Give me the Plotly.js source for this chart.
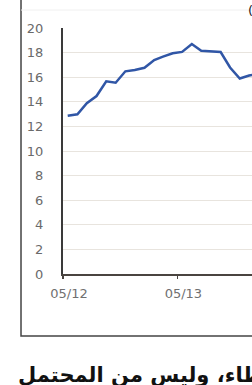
<!DOCTYPE html>
<html><head><meta charset="utf-8">
<script src="https://cdn.plot.ly/plotly-3.0.1.min.js"></script>
<style>html,body{margin:0;padding:0;background:#fff;overflow:hidden}#chart{width:252px;height:385px}</style>
</head><body><div id="chart"></div>
<script>
const months = ['2012-05-16','2012-06-16','2012-07-16','2012-08-16','2012-09-16','2012-10-16','2012-11-16','2012-12-16',
  '2013-01-16','2013-02-16','2013-03-16','2013-04-16','2013-05-16','2013-06-16','2013-07-16','2013-08-16',
  '2013-09-16','2013-10-16','2013-11-16','2013-12-16','2014-01-16'];
const values = [12.87,12.98,13.88,14.47,15.67,15.55,16.48,16.59,16.77,17.40,17.67,17.94,18.06,18.70,18.15,18.07,18.05,16.79,15.89,16.14,16.3];
const tickDates = ['2012-05-01','2013-05-01'];
const tickLabels = ['05/12','05/13'];
const yTicks = [0,2,4,6,8,10,12,14,16,18,20];
const unitText = '(';
const bodyText = 'أخطاء، وليس من المحتمل';

const trace = {x: months, y: values, type:'scatter', mode:'lines',
  line:{color:'#3056a6', width:2.5, shape:'linear'}, hoverinfo:'skip'};

const layout = {
  width:252, height:385,
  margin:{l:63, r:0, t:28, b:111, pad:0},
  paper_bgcolor:'#fff', plot_bgcolor:'#fff', showlegend:false,
  xaxis:{type:'date', range:['2012-05-01','2013-12-25'], tickmode:'array', tickvals:tickDates, ticktext:tickLabels,
    showgrid:false, showline:true, linecolor:'#4a4440', linewidth:1.8, ticks:'outside', ticklen:3, tickwidth:1.5,
    tickcolor:'#4a4440', tickfont:{family:'DejaVu Sans', size:13, color:'#707070'}, ticklabelshift:6,
    ticklabelstandoff:4, zeroline:false, fixedrange:true},
  yaxis:{range:[0,20], tickmode:'array', tickvals:yTicks, showgrid:true, gridcolor:'#e8e4de', gridwidth:1,
    showline:true, linecolor:'#3a3a3a', linewidth:2, ticks:'', tickfont:{family:'DejaVu Sans', size:13, color:'#6a6a6a'},
    ticklabelstandoff:15, zeroline:false, fixedrange:true},
  shapes:[
    {type:'path', xref:'paper', yref:'paper', path:'M -0.2222 1.2 L -0.2222 -0.252 L 1.2 -0.252',
     line:{color:'#444', width:1.5}},
    {type:'line', xref:'paper', yref:'paper', x0:-0.2222, x1:1.2, y0:1.073, y1:1.073, line:{color:'#f0f0f0', width:1}}
  ],
  annotations:[
    {xref:'paper', yref:'paper', x:0.968, y:1.073, xanchor:'left', yanchor:'middle', text:unitText, showarrow:false,
     font:{family:'DejaVu Sans', size:13, color:'#222'}},
    {xref:'paper', yref:'paper', x:-0.249, y:-0.403, xanchor:'left', yanchor:'middle', text:bodyText, showarrow:false,
     font:{family:'DejaVu Sans', size:21, color:'#111', weight:'bold'}}
  ]
};
Plotly.newPlot('chart', [trace], layout, {staticPlot:true, displayModeBar:false});
</script></body></html>
